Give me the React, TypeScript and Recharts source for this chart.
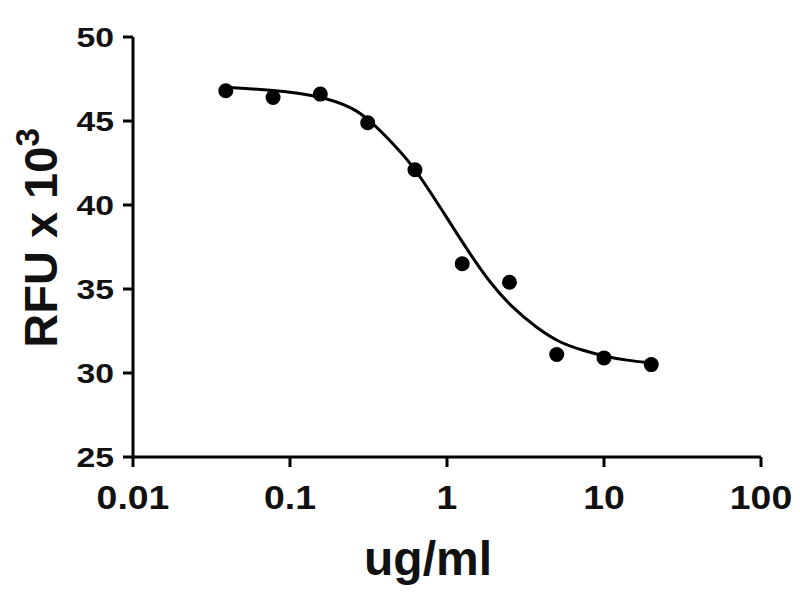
import React from "react";
import {
  ComposedChart,
  Line,
  Scatter,
  XAxis,
  YAxis,
  Label,
} from "recharts";

// measured points (ug/ml vs RFU x 10^3)
const doses = [0.039, 0.078, 0.156, 0.3125, 0.625, 1.25, 2.5, 5, 10, 20];
const rfu = [46.8, 46.4, 46.6, 44.9, 42.1, 36.5, 35.4, 31.1, 30.9, 30.5];

// fitted curve
const curveX = [0.039, 0.078, 0.156, 0.25, 0.3125, 0.45, 0.625, 0.9, 1.35, 1.9, 2.6, 3.7, 5.2, 7.3, 10, 14, 20];
const curveY = [47.0, 46.85, 46.5, 45.8, 45.15, 43.7, 42.2, 39.9, 37.3, 35.3, 33.9, 32.7, 31.8, 31.35, 31.0, 30.75, 30.6];

const xTicks = [0.01, 0.1, 1, 10, 100];
const yTicks = [25, 30, 35, 40, 45, 50];

const points = doses.map((x, i) => ({ x, y: rfu[i] }));
const curve = curveX.map((x, i) => ({ x, y: curveY[i] }));

const font = "'Liberation Sans', Arial, sans-serif";

const XTick = (props: any) => {
  const { x, y, payload } = props;
  return (
    <text
      transform={`translate(${x},${y + 40}) scale(1.1,1)`}
      textAnchor="middle"
      fontFamily={font}
      fontWeight="bold"
      fontSize={34}
      fill="#111"
    >
      {String(payload.value)}
    </text>
  );
};

const YTick = (props: any) => {
  const { x, y, payload } = props;
  return (
    <text
      transform={`translate(${x - 7},${y}) scale(1.25,1)`}
      dy="0.36em"
      textAnchor="end"
      fontFamily={font}
      fontWeight="bold"
      fontSize={27}
      fill="#111"
    >
      {payload.value}
    </text>
  );
};

const Dot = (props: any) => <circle cx={props.cx} cy={props.cy} r={7.5} fill="#000" />;

const App = () => {
  return (
    <div style={{ position: "absolute", left: 0, top: 0, background: "#fff" }}>
      <ComposedChart
        width={800}
        height={600}
        margin={{ top: 37, right: 39, left: 73, bottom: 53 }}
      >
        <XAxis
          type="number"
          dataKey="x"
          scale="log"
          domain={[0.01, 100]}
          ticks={xTicks}
          allowDataOverflow
          height={90}
          axisLine={{ stroke: "#000", strokeWidth: 3 }}
          tickLine={{ stroke: "#000", strokeWidth: 3 }}
          tickSize={10}
          tick={<XTick />}
        >
          <Label
            content={(p: any) => {
              const vb = p.viewBox;
              return (
                <text
                  x={vb.x + vb.width / 2 - 19}
                  y={vb.y + 118}
                  textAnchor="middle"
                  fontFamily={font}
                  fontWeight="bold"
                  fontSize={48}
                  fill="#111"
                >
                  ug/ml
                </text>
              );
            }}
          />
        </XAxis>
        <YAxis
          type="number"
          domain={[25, 50]}
          ticks={yTicks}
          width={60}
          axisLine={{ stroke: "#000", strokeWidth: 3 }}
          tickLine={{ stroke: "#000", strokeWidth: 3 }}
          tickSize={10}
          tick={<YTick />}
        >
          <Label
            content={(p: any) => {
              const vb = p.viewBox;
              const cx = 40;
              const cy = vb.y + vb.height / 2 - 9;
              return (
                <text
                  transform={`translate(${cx},${cy}) rotate(-90)`}
                  textAnchor="middle"
                  dy="0.36em"
                  fontFamily={font}
                  fontWeight="bold"
                  fontSize={47}
                  fill="#111"
                >
                  RFU x 10
                  <tspan fontSize={33} dy="-0.55em">3</tspan>
                </text>
              );
            }}
          />
        </YAxis>
        <Line
          data={curve}
          dataKey="y"
          type="basis"
          stroke="#000"
          strokeWidth={3}
          dot={false}
          activeDot={false}
          isAnimationActive={false}
        />
        <Scatter
          data={points}
          dataKey="y"
          fill="#000"
          shape={<Dot />}
          isAnimationActive={false}
        />
      </ComposedChart>
    </div>
  );
};

export default App;
